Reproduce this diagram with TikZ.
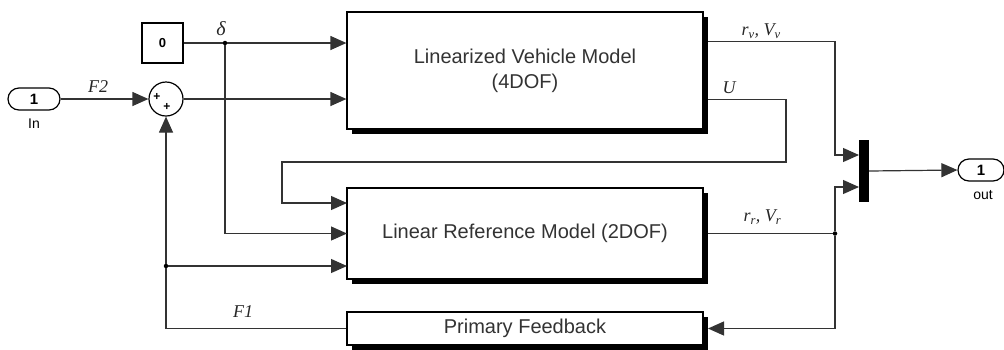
\documentclass[tikz,border=0pt]{standalone}
\usepackage{fontspec}
\setmainfont{Liberation Serif}
\newfontfamily\arial{Liberation Sans}
\usetikzlibrary{arrows.meta,shadows}
\begin{document}
\begin{tikzpicture}[x=1pt,y=-1pt,
  blk/.style={draw, line width=1.2pt, fill=white, align=center, inner sep=0pt,
    font=\arial\fontsize{20}{25}\selectfont, text=black!80,
    drop shadow={shadow xshift=5pt, shadow yshift=-5pt, fill=black, opacity=1}},
  wire/.style={line width=1.2pt, draw=black!80},
  arr/.style={wire, -{Triangle[length=16pt,width=14pt]}},
  lbl/.style={font=\itshape\fontsize{18}{20}\selectfont, text=black!85},
  port/.style={draw, line width=1.2pt, rounded corners=11pt, minimum height=22pt,
    inner sep=0pt, font=\arial\bfseries\fontsize{15}{17}\selectfont},
  plbl/.style={font=\arial\fontsize{14}{16}\selectfont},
  dot/.style={circle, fill=black, inner sep=0pt, minimum size=4.5pt}]
\useasboundingbox (0,0) rectangle (1004,349);

% blocks
\node[blk, minimum width=356pt, minimum height=117pt] (lvm) at (525,70.5)
  {Linearized Vehicle Model\\(4DOF)};
\node[blk, minimum width=356pt, minimum height=91pt] (lrm) at (525,233.5)
  {Linear Reference Model (2DOF)};
\node[blk, minimum width=356pt, minimum height=33pt] (pf) at (525,328.5)
  {Primary Feedback};
\node[draw, line width=1.2pt, minimum width=41pt, minimum height=40pt, inner sep=0pt,
  font=\arial\bfseries\fontsize{13}{15}\selectfont] (c0) at (162.5,43) {0};
\node[port, minimum width=52pt] (in) at (34,99) {1};
\node[plbl] (inl) at (34,124) {In};
\node[port, minimum width=46pt] (out) at (981,170) {1};
\node[plbl] (outl) at (983,195) {out};
\node[draw, line width=1.2pt, circle, minimum size=34pt, inner sep=0pt] (sum) at (166,99) {};
\node[font=\arial\bfseries\fontsize{12}{12}\selectfont, inner sep=0pt] (p1) at (157,97) {+};
\node[font=\arial\bfseries\fontsize{12}{12}\selectfont, inner sep=0pt] (p2) at (167,107) {+};
\node[fill=black, minimum width=10pt, minimum height=62pt, inner sep=0pt] (mux) at (864,171) {};

% junctions and bends
\node[dot] (d1) at (225,43) {};
\node[dot] (d2) at (166,266) {};
\node[dot] (d3) at (835,233.5) {};
\coordinate (lvmo1) at (708,41.5);
\coordinate (lvmo2) at (708,99.75);
\coordinate (lrmo) at (708,233.5);
\coordinate (lrm1) at (347,203);
\coordinate (lrm2) at (347,233.5);
\coordinate (lrm3) at (347,266);
\coordinate (mux1) at (859,155);
\coordinate (mux2) at (859,187);
\coordinate (pfin) at (708,328.5);
\coordinate (ub1) at (786,162);
\coordinate (ub2) at (282,162);

% connectors
\draw[arr] (in.east) -- (sum.west);
\draw[wire] (c0.east) -- (d1);
\draw[arr] (d1) -- (lvm.west |- d1);
\draw[arr] (sum.east) -- (lvm.west |- sum);
\draw[arr] (d1) |- (lrm2);
\draw[arr] (lvmo2) -| (ub1) -- (ub2) |- (lrm1);
\draw[arr] (d2) -- (lrm3);
\draw[wire] (pf.west) -| (d2);
\draw[arr] (d2) -- (sum.south);
\draw[arr] (lvmo1) -| (835,155) -- (mux1);
\draw[wire] (lrmo) -- (d3);
\draw[arr] (d3) |- (mux2);
\draw[arr] (d3) |- (pfin);
\draw[arr] (mux.east) -- (out.west);

% labels
\node[lbl, font=\itshape\fontsize{20}{22}\selectfont] (ld) at (221,29) {δ};
\node[lbl] (lf2) at (98,87) {F2};
\node[lbl] (lf1) at (243,312) {F1};
\node[lbl] (lu) at (729,88) {U};
\node[lbl, anchor=west] (lv) at (738,31) {r\textsubscript{v}, V\textsubscript{v}};
\node[lbl, anchor=west] (lr) at (740,217) {r\textsubscript{r}, V\textsubscript{r}};
\end{tikzpicture}
\end{document}
